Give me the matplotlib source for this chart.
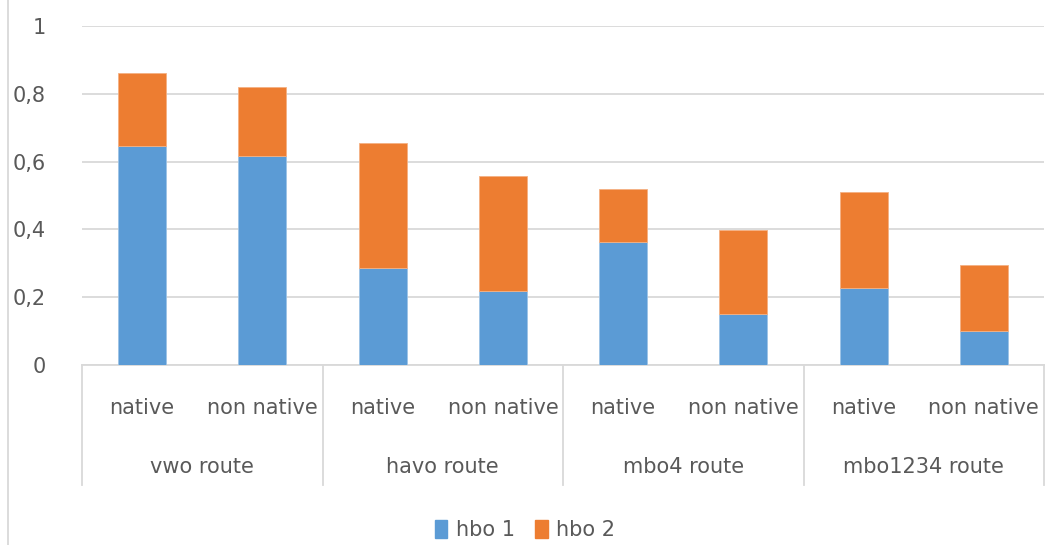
import matplotlib.pyplot as plt
from matplotlib.lines import Line2D
from matplotlib.patches import Patch
from matplotlib.ticker import FuncFormatter

routes = ["vwo route", "havo route", "mbo4 route", "mbo1234 route"]
groups = ["native", "non native"]
hbo1 = [0.647, 0.617, 0.287, 0.218, 0.364, 0.150, 0.228, 0.101]
hbo2 = [0.213, 0.204, 0.369, 0.340, 0.155, 0.248, 0.281, 0.195]

blue = "#5B9BD5"
orange = "#ED7D31"
txt = "#595959"
grid = "#D9D9D9"

plt.rcParams["font.family"] = ["Liberation Sans Narrow", "DejaVu Sans"]

fig = plt.figure(figsize=(10.5, 5.45), dpi=100)
ax = fig.add_axes([82 / 1050, 1 - 365 / 545, 962 / 1050, 339 / 545])

x = list(range(len(hbo1)))
ax.bar(x, hbo1, width=0.4, color=blue, edgecolor="#9DC3E6", linewidth=0.6, zorder=3)
ax.bar(x, hbo2, width=0.4, bottom=hbo1, color=orange, edgecolor="#F4B183", linewidth=0.6, zorder=3)

ax.set_xlim(-0.5, len(hbo1) - 0.5)
ax.set_ylim(0, 1)
ax.set_yticks([0, 0.2, 0.4, 0.6, 0.8, 1])
ax.yaxis.set_major_formatter(FuncFormatter(lambda v, p: ("%g" % v).replace(".", ",")))
ax.grid(axis="y", color=grid, linewidth=1.3, zorder=0)
for s in ["top", "right", "left"]:
    ax.spines[s].set_visible(False)
ax.spines["bottom"].set_color(grid)
ax.spines["bottom"].set_linewidth(1.3)
ax.set_xticks([])
ax.tick_params(axis="y", length=0, labelsize=15, labelcolor=txt, pad=26)

tr = ax.get_xaxis_transform()
for i in x:
    ax.text(i, -0.127, groups[i % 2], transform=tr, ha="center", va="center",
            fontsize=15, color=txt)
for j, r in enumerate(routes):
    ax.text(2 * j + 0.5, -0.30, r, transform=tr, ha="center", va="center",
            fontsize=15, color=txt)
for k in range(len(routes) + 1):
    ax.add_line(Line2D([2 * k - 0.5, 2 * k - 0.5], [0, -0.354], transform=tr,
                       color=grid, linewidth=1.3, clip_on=False))

# chart border on left
fig.add_artist(Line2D([8 / 1050, 8 / 1050], [0, 1], transform=fig.transFigure,
                      color=grid, linewidth=1.3))

handles = [Patch(color=blue, label="hbo 1"), Patch(color=orange, label="hbo 2")]
fig.legend(handles=handles, loc="center", bbox_to_anchor=(525 / 1050, 1 - 530 / 545),
           ncol=2, frameon=False, fontsize=15, labelcolor=txt, handlelength=0.6,
           handleheight=1.0, handletextpad=0.4, columnspacing=1.0)

fig.savefig("out.png", dpi=100)
